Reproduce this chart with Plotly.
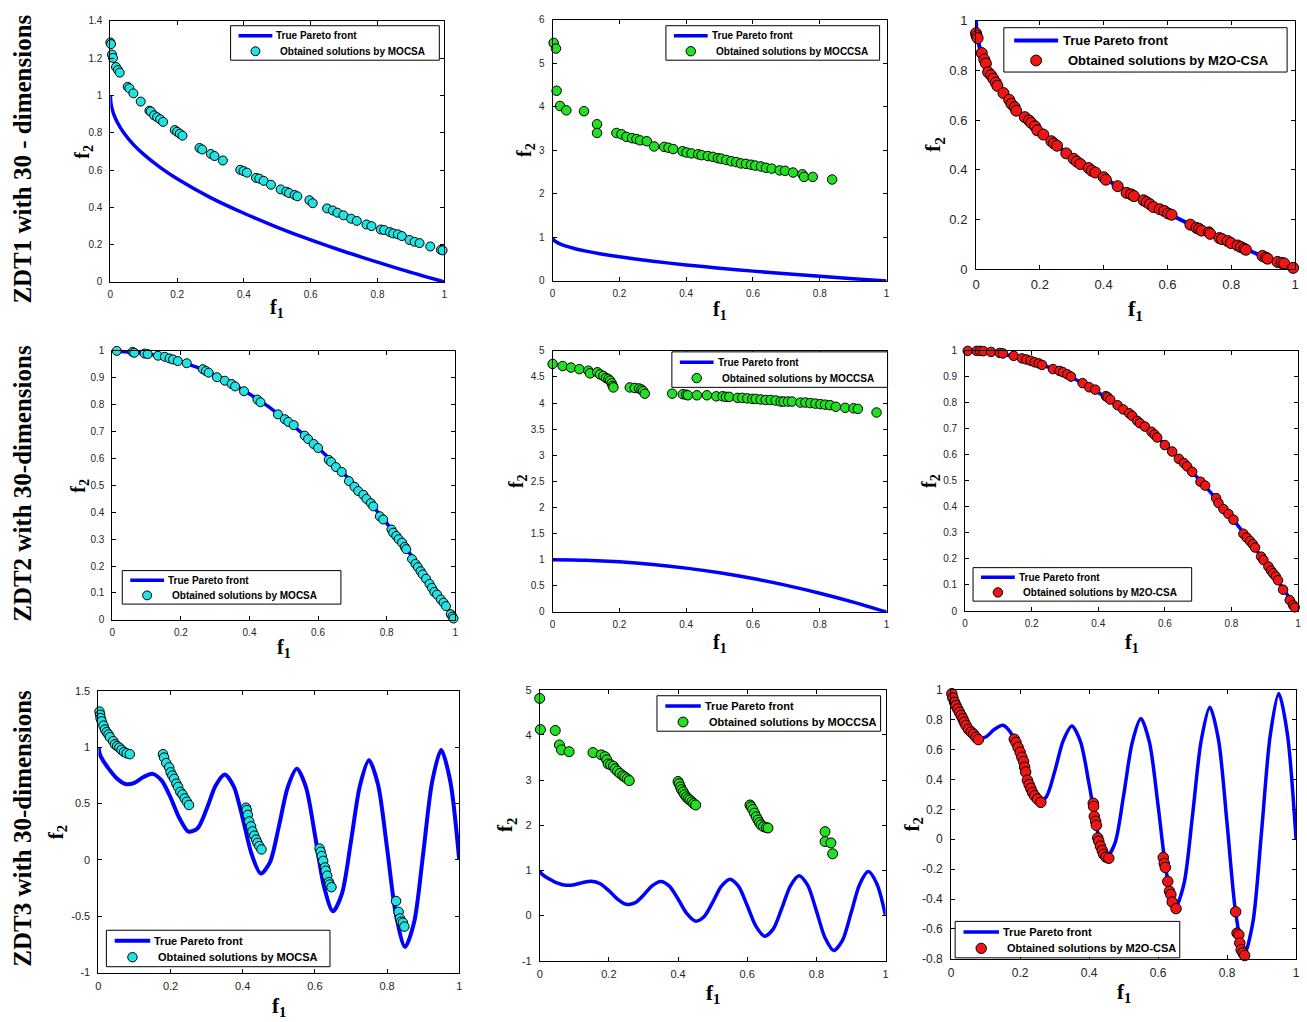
import plotly.graph_objects as go

# ---------------- data ----------------
# true Pareto fronts
zdt1_f1 = [0, 0.002, 0.005, 0.01, 0.02, 0.04, 0.07, 0.1, 0.15, 0.2, 0.3, 0.4, 0.5, 0.6, 0.7, 0.8, 0.9, 1.0]
zdt1_f2 = [1.0, 0.955, 0.929, 0.9, 0.859, 0.8, 0.735, 0.684, 0.613, 0.553, 0.452, 0.368, 0.293, 0.225, 0.163, 0.106, 0.051, 0.0]

zdt2_f1 = [0, 0.1, 0.2, 0.3, 0.4, 0.5, 0.6, 0.7, 0.8, 0.9, 1.0]
zdt2_f2 = [1.0, 0.99, 0.96, 0.91, 0.84, 0.75, 0.64, 0.51, 0.36, 0.19, 0.0]

zdt3_f1 = [0, 0.005, 0.0125, 0.025, 0.05, 0.075, 0.1, 0.125, 0.15, 0.175, 0.2, 0.225, 0.25, 0.275, 0.3,
           0.325, 0.35, 0.375, 0.4, 0.425, 0.45, 0.475, 0.5, 0.525, 0.55, 0.575, 0.6, 0.625, 0.65,
           0.675, 0.7, 0.725, 0.75, 0.775, 0.8, 0.825, 0.85, 0.875, 0.9, 0.925, 0.95, 0.975, 1.0]
zdt3_f2 = [1.0, 0.928, 0.883, 0.824, 0.726, 0.673, 0.684, 0.735, 0.763, 0.705, 0.553, 0.367, 0.25, 0.281, 0.452,
           0.66, 0.758, 0.653, 0.368, 0.048, -0.121, -0.025, 0.293, 0.647, 0.808, 0.648, 0.225, -0.233, -0.456,
           -0.299, 0.163, 0.661, 0.884, 0.668, 0.106, -0.492, -0.772, -0.554, 0.051, 0.692, 0.975, 0.702, 0.0]

# ZDT1 / MOCSA
zdt1_mocsa_f1 = [0.0, 0.002, 0.005, 0.008, 0.017, 0.023, 0.028, 0.052, 0.057, 0.069, 0.091, 0.117, 0.121, 0.131,
                 0.140, 0.149, 0.158, 0.193, 0.200, 0.208, 0.216, 0.267, 0.275, 0.301, 0.312, 0.337, 0.389, 0.399,
                 0.409, 0.436, 0.446, 0.459, 0.481, 0.510, 0.527, 0.535, 0.552, 0.560, 0.596, 0.606, 0.649, 0.666,
                 0.680, 0.698, 0.721, 0.738, 0.767, 0.782, 0.810, 0.820, 0.837, 0.847, 0.861, 0.873, 0.896, 0.911,
                 0.926, 0.958, 0.990, 0.995]
zdt1_mocsa_f2 = [1.284, 1.275, 1.219, 1.201, 1.152, 1.136, 1.122, 1.046, 1.038, 1.011, 0.967, 0.918, 0.914, 0.893,
                 0.883, 0.872, 0.858, 0.814, 0.805, 0.795, 0.784, 0.718, 0.710, 0.686, 0.675, 0.651, 0.601, 0.594,
                 0.586, 0.558, 0.554, 0.542, 0.521, 0.496, 0.484, 0.477, 0.466, 0.459, 0.438, 0.422, 0.394, 0.383,
                 0.371, 0.357, 0.339, 0.327, 0.308, 0.299, 0.281, 0.278, 0.267, 0.260, 0.255, 0.246, 0.225, 0.215,
                 0.208, 0.190, 0.172, 0.169]

# ZDT1 / MOCCSA
zdt1_moccsa_f1 = [0.003, 0.010, 0.012, 0.022, 0.041, 0.094, 0.133, 0.133, 0.191, 0.206, 0.221, 0.238, 0.251, 0.262,
                  0.282, 0.304, 0.334, 0.347, 0.361, 0.389, 0.401, 0.416, 0.436, 0.446, 0.465, 0.480, 0.495, 0.505,
                  0.520, 0.535, 0.550, 0.564, 0.579, 0.594, 0.607, 0.624, 0.639, 0.656, 0.680, 0.696, 0.720, 0.748,
                  0.753, 0.779, 0.837]
zdt1_moccsa_f2 = [5.47, 5.34, 4.37, 4.02, 3.92, 3.90, 3.60, 3.40, 3.40, 3.37, 3.31, 3.28, 3.26, 3.23,
                  3.21, 3.09, 3.08, 3.06, 3.03, 2.98, 2.95, 2.93, 2.91, 2.89, 2.87, 2.85, 2.82, 2.81,
                  2.78, 2.75, 2.73, 2.70, 2.69, 2.67, 2.65, 2.63, 2.60, 2.58, 2.54, 2.53, 2.49, 2.45,
                  2.39, 2.39, 2.33]

# ZDT1 / M2O-CSA
zdt1_m2o_f1 = [0.0, 0.002, 0.005, 0.018, 0.026, 0.031, 0.038, 0.047, 0.054, 0.062, 0.067, 0.086, 0.104, 0.111,
               0.121, 0.126, 0.153, 0.166, 0.173, 0.185, 0.192, 0.211, 0.236, 0.244, 0.254, 0.283, 0.306, 0.316,
               0.327, 0.353, 0.363, 0.374, 0.400, 0.407, 0.444, 0.472, 0.486, 0.495, 0.525, 0.535, 0.545, 0.556,
               0.576, 0.590, 0.602, 0.613, 0.672, 0.691, 0.699, 0.707, 0.730, 0.734, 0.763, 0.771, 0.789, 0.799,
               0.820, 0.830, 0.841, 0.846, 0.898, 0.909, 0.914, 0.945, 0.958, 0.966, 0.994]
zdt1_m2o_f2 = [0.950, 0.939, 0.930, 0.870, 0.844, 0.828, 0.793, 0.781, 0.767, 0.751, 0.738, 0.709, 0.682, 0.665,
               0.652, 0.638, 0.612, 0.599, 0.589, 0.575, 0.559, 0.542, 0.515, 0.506, 0.497, 0.466, 0.444, 0.433,
               0.423, 0.407, 0.396, 0.389, 0.370, 0.360, 0.334, 0.307, 0.301, 0.294, 0.277, 0.270, 0.261, 0.250,
               0.241, 0.234, 0.224, 0.219, 0.179, 0.166, 0.162, 0.155, 0.148, 0.142, 0.125, 0.121, 0.113, 0.105,
               0.095, 0.089, 0.082, 0.078, 0.053, 0.046, 0.042, 0.029, 0.025, 0.023, 0.005]

# ZDT2 / MOCSA
zdt2_mocsa_f1 = [0.013, 0.059, 0.064, 0.094, 0.103, 0.133, 0.153, 0.167, 0.177, 0.191, 0.217, 0.264, 0.273, 0.281,
                 0.305, 0.328, 0.348, 0.358, 0.384, 0.423, 0.432, 0.483, 0.503, 0.513, 0.529, 0.561, 0.571, 0.587,
                 0.600, 0.631, 0.638, 0.652, 0.669, 0.690, 0.706, 0.717, 0.732, 0.741, 0.754, 0.761, 0.780, 0.790,
                 0.814, 0.819, 0.828, 0.835, 0.845, 0.853, 0.857, 0.874, 0.884, 0.891, 0.899, 0.905, 0.915, 0.925,
                 0.932, 0.939, 0.947, 0.958, 0.966, 0.973, 0.987, 0.992, 0.995]
zdt2_mocsa_f2 = [1.000, 0.996, 0.993, 0.990, 0.988, 0.982, 0.978, 0.972, 0.968, 0.962, 0.954, 0.932, 0.925, 0.919,
                 0.902, 0.889, 0.877, 0.868, 0.850, 0.819, 0.809, 0.764, 0.746, 0.736, 0.724, 0.685, 0.672, 0.654,
                 0.639, 0.595, 0.587, 0.568, 0.550, 0.516, 0.495, 0.479, 0.465, 0.450, 0.434, 0.422, 0.385, 0.373,
                 0.336, 0.324, 0.312, 0.300, 0.287, 0.271, 0.263, 0.226, 0.208, 0.196, 0.181, 0.169, 0.153, 0.134,
                 0.119, 0.104, 0.094, 0.076, 0.064, 0.051, 0.021, 0.012, 0.005]

# ZDT2 / MOCCSA
zdt2_moccsa_f1 = [0.0, 0.030, 0.055, 0.080, 0.107, 0.112, 0.134, 0.142, 0.152, 0.160, 0.167, 0.172, 0.177, 0.180,
                  0.182, 0.231, 0.246, 0.259, 0.266, 0.271, 0.276, 0.358, 0.390, 0.400, 0.405, 0.432, 0.462, 0.490,
                  0.509, 0.519, 0.529, 0.554, 0.568, 0.583, 0.598, 0.608, 0.623, 0.638, 0.653, 0.668, 0.683, 0.692,
                  0.705, 0.717, 0.742, 0.757, 0.772, 0.787, 0.802, 0.816, 0.831, 0.848, 0.876, 0.901, 0.914, 0.970]
zdt2_moccsa_f2 = [4.75, 4.71, 4.68, 4.65, 4.62, 4.57, 4.59, 4.55, 4.52, 4.48, 4.46, 4.43, 4.38, 4.33,
                  4.30, 4.30, 4.29, 4.28, 4.26, 4.23, 4.18, 4.18, 4.17, 4.16, 4.15, 4.15, 4.15, 4.13,
                  4.13, 4.12, 4.12, 4.10, 4.10, 4.09, 4.08, 4.08, 4.07, 4.06, 4.06, 4.05, 4.03, 4.03,
                  4.03, 4.03, 4.01, 4.01, 4.00, 3.99, 3.98, 3.97, 3.96, 3.93, 3.91, 3.90, 3.89, 3.82]

# ZDT2 / M2O-CSA
zdt2_m2o_f1 = [0.008, 0.035, 0.045, 0.055, 0.078, 0.104, 0.114, 0.146, 0.171, 0.184, 0.197, 0.209, 0.221, 0.231,
               0.264, 0.284, 0.294, 0.307, 0.318, 0.353, 0.373, 0.391, 0.423, 0.428, 0.436, 0.458, 0.475, 0.493,
               0.502, 0.517, 0.525, 0.540, 0.560, 0.569, 0.577, 0.600, 0.622, 0.642, 0.657, 0.667, 0.682, 0.707,
               0.721, 0.754, 0.761, 0.776, 0.791, 0.806, 0.836, 0.846, 0.856, 0.864, 0.871, 0.889, 0.896, 0.911,
               0.919, 0.925, 0.933, 0.940, 0.955, 0.975, 0.985, 0.990]
zdt2_m2o_f2 = [1.000, 1.000, 1.000, 0.999, 0.996, 0.992, 0.990, 0.981, 0.971, 0.967, 0.962, 0.956, 0.952, 0.946,
               0.930, 0.923, 0.918, 0.910, 0.901, 0.876, 0.860, 0.851, 0.826, 0.822, 0.813, 0.791, 0.775, 0.760,
               0.750, 0.731, 0.722, 0.709, 0.689, 0.678, 0.667, 0.638, 0.613, 0.585, 0.569, 0.556, 0.535, 0.497,
               0.482, 0.434, 0.415, 0.392, 0.373, 0.351, 0.297, 0.282, 0.269, 0.257, 0.244, 0.209, 0.196, 0.171,
               0.155, 0.145, 0.133, 0.118, 0.082, 0.042, 0.023, 0.014]

# ZDT3 / MOCSA
zdt3_mocsa_f1 = [0.003, 0.005, 0.006, 0.009, 0.014, 0.018, 0.023, 0.028, 0.032, 0.041, 0.046, 0.052, 0.058, 0.064,
                 0.071, 0.078, 0.087,
                 0.179, 0.182, 0.188, 0.196, 0.200, 0.205, 0.210, 0.216, 0.221, 0.227, 0.233, 0.239, 0.245, 0.251,
                 0.409, 0.411, 0.414, 0.418, 0.423, 0.427, 0.432, 0.437, 0.441, 0.446, 0.452,
                 0.613, 0.616, 0.619, 0.623, 0.628, 0.630, 0.634, 0.639, 0.641, 0.646,
                 0.825, 0.832, 0.836, 0.839, 0.844, 0.848]
zdt3_mocsa_f2 = [1.316, 1.287, 1.258, 1.229, 1.191, 1.156, 1.133, 1.112, 1.089, 1.054, 1.025, 1.010, 0.996, 0.976,
                 0.958, 0.946, 0.938,
                 0.938, 0.908, 0.859, 0.821, 0.777, 0.748, 0.719, 0.676, 0.647, 0.603, 0.580, 0.545, 0.516, 0.487,
                 0.463, 0.442, 0.399, 0.341, 0.297, 0.253, 0.215, 0.180, 0.151, 0.122, 0.093,
                 0.101, 0.072, 0.034, -0.009, -0.067, -0.096, -0.140, -0.198, -0.219, -0.242,
                 -0.365, -0.461, -0.519, -0.548, -0.557, -0.592]

# ZDT3 / MOCCSA
zdt3_moccsa_f1 = [0.0, 0.002, 0.045, 0.057, 0.063, 0.085, 0.154, 0.178, 0.189, 0.194, 0.198, 0.205, 0.213, 0.218,
                  0.225, 0.232, 0.240, 0.246, 0.253, 0.259,
                  0.400, 0.403, 0.407, 0.410, 0.415, 0.419, 0.424, 0.429, 0.434, 0.440, 0.445, 0.451,
                  0.608, 0.611, 0.616, 0.621, 0.626, 0.631, 0.635, 0.640, 0.647, 0.655, 0.660,
                  0.825, 0.825, 0.842, 0.847]
zdt3_moccsa_f2 = [4.81, 4.12, 4.10, 3.78, 3.67, 3.63, 3.61, 3.56, 3.52, 3.45, 3.36, 3.34, 3.31, 3.25,
                  3.20, 3.15, 3.10, 3.07, 3.03, 2.99,
                  2.97, 2.92, 2.85, 2.79, 2.74, 2.68, 2.63, 2.59, 2.56, 2.52, 2.48, 2.45,
                  2.45, 2.41, 2.35, 2.27, 2.19, 2.12, 2.06, 2.01, 1.97, 1.95, 1.94,
                  1.86, 1.64, 1.61, 1.37]

# ZDT3 / M2O-CSA
zdt3_m2o_f1 = [0.002, 0.005, 0.010, 0.014, 0.019, 0.024, 0.029, 0.034, 0.038, 0.043, 0.050, 0.058, 0.065, 0.072, 0.079,
               0.183, 0.188, 0.194, 0.200, 0.205, 0.210, 0.213, 0.216, 0.221, 0.226, 0.231, 0.236, 0.242, 0.250, 0.260,
               0.412, 0.413, 0.415, 0.419, 0.421, 0.425, 0.428, 0.433, 0.438, 0.442, 0.449, 0.457,
               0.615, 0.618, 0.621, 0.628, 0.633, 0.637, 0.641, 0.652,
               0.825, 0.829, 0.834, 0.837, 0.841, 0.846, 0.851]
zdt3_m2o_f2 = [0.974, 0.945, 0.916, 0.894, 0.872, 0.850, 0.828, 0.806, 0.784, 0.762, 0.736, 0.718, 0.703, 0.683, 0.667,
               0.670, 0.648, 0.615, 0.582, 0.549, 0.520, 0.483, 0.450, 0.395, 0.366, 0.340, 0.313, 0.291, 0.269, 0.247,
               0.241, 0.219, 0.153, 0.120, 0.093, 0.009, -0.013, -0.046, -0.075, -0.101, -0.119, -0.127,
               -0.122, -0.162, -0.189, -0.282, -0.348, -0.370, -0.420, -0.464,
               -0.485, -0.628, -0.639, -0.694, -0.739, -0.761, -0.778]

# tick labels
ticks_f1 = [0, 0.2, 0.4, 0.6, 0.8, 1]
ticks_f1_text = ['0', '0.2', '0.4', '0.6', '0.8', '1']
ticks_y1 = [0, 0.2, 0.4, 0.6, 0.8, 1, 1.2, 1.4]
ticks_y1_text = ['0', '0.2', '0.4', '0.6', '0.8', '1', '1.2', '1.4']
ticks_y2 = [0, 1, 2, 3, 4, 5, 6]
ticks_y2_text = ['0', '1', '2', '3', '4', '5', '6']
ticks_y3 = [0, 0.2, 0.4, 0.6, 0.8, 1]
ticks_y3_text = ['0', '0.2', '0.4', '0.6', '0.8', '1']
ticks_y4 = [0, 0.1, 0.2, 0.3, 0.4, 0.5, 0.6, 0.7, 0.8, 0.9, 1]
ticks_y4_text = ['0', '0.1', '0.2', '0.3', '0.4', '0.5', '0.6', '0.7', '0.8', '0.9', '1']
ticks_y5 = [0, 0.5, 1, 1.5, 2, 2.5, 3, 3.5, 4, 4.5, 5]
ticks_y5_text = ['0', '0.5', '1', '1.5', '2', '2.5', '3', '3.5', '4', '4.5', '5']
ticks_y7 = [-1, -0.5, 0, 0.5, 1, 1.5]
ticks_y7_text = ['-1', '-0.5', '0', '0.5', '1', '1.5']
ticks_y8 = [-1, 0, 1, 2, 3, 4, 5]
ticks_y8_text = ['-1', '0', '1', '2', '3', '4', '5']
ticks_y9 = [-0.8, -0.6, -0.4, -0.2, 0, 0.2, 0.4, 0.6, 0.8, 1]
ticks_y9_text = ['-0.8', '-0.6', '-0.4', '-0.2', '0', '0.2', '0.4', '0.6', '0.8', '1']

row_labels = ['ZDT1 with 30 - dimensions', 'ZDT2 with 30-dimensions', 'ZDT3 with 30-dimensions']
algo_names = ['MOCSA', 'MOCCSA', 'M2O-CSA']
front_name = 'True Pareto front'
sol_prefix = 'Obtained solutions by '

# ---------------- layout / styling ----------------
W, H = 1307, 1022
CYAN, GREEN, RED, BLUE = '#22e3e3', '#22e022', '#f01414', '#0000ff'

panels = [
    # plot box in px (left, right, top, bottom); legend box in px (x0, y0, x1, y1)
    dict(box=(107, 443, 14, 279), front=(zdt1_f1, zdt1_f2), sol=(zdt1_mocsa_f1, zdt1_mocsa_f2), algo=0, color=CYAN,
         yr=[0, 1.4], yt=(ticks_y1, ticks_y1_text), tf=10, ms=9, lw=3.5, leg=(228, 19, 438, 54), lf=10, ls=1.0,
         f1off=12, f2off=27, af=20),
    dict(box=(552, 888, 13, 278), front=(zdt1_f1, zdt1_f2), sol=(zdt1_moccsa_f1, zdt1_moccsa_f2), algo=1, color=GREEN,
         yr=[0, 6], yt=(ticks_y2, ticks_y2_text), tf=10, ms=9.5, lw=3.5, leg=(666, 19, 881, 54), lf=10, ls=1.0,
         f1off=15, f2off=27, af=20),
    dict(box=(978, 1299, 14, 266), front=(zdt1_f1, zdt1_f2), sol=(zdt1_m2o_f1, zdt1_m2o_f2), algo=2, color=RED,
         yr=[0, 1], yt=(ticks_y3, ticks_y3_text), tf=13, ms=11, lw=4, leg=(1006, 21, 1291, 66), lf=13, ls=1.3,
         f1off=25, f2off=42, af=22),
    dict(box=(109, 454, 349, 622), front=(zdt2_f1, zdt2_f2), sol=(zdt2_mocsa_f1, zdt2_mocsa_f2), algo=0, color=CYAN,
         yr=[0, 1], yt=(ticks_y4, ticks_y4_text), tf=10, ms=9, lw=3.5, leg=(119, 572, 339, 606), lf=10, ls=1.0,
         f1off=14, f2off=33, af=20),
    dict(box=(552, 888, 349, 614), front=(zdt2_f1, zdt2_f2), sol=(zdt2_moccsa_f1, zdt2_moccsa_f2), algo=1, color=GREEN,
         yr=[0, 5], yt=(ticks_y5, ticks_y5_text), tf=10, ms=9.5, lw=3.5, leg=(672, 350, 889, 386), lf=10, ls=1.0,
         f1off=17, f2off=35, af=20),
    dict(box=(967, 1302, 349, 613), front=(zdt2_f1, zdt2_f2), sol=(zdt2_m2o_f1, zdt2_m2o_f2), algo=2, color=RED,
         yr=[0, 1], yt=(ticks_y4, ticks_y4_text), tf=10, ms=9.5, lw=3.5, leg=(975, 569, 1195, 603), lf=10, ls=1.0,
         f1off=18, f2off=34, af=20),
    dict(box=(95, 458, 694, 980), front=(zdt3_f1, zdt3_f2), sol=(zdt3_mocsa_f1, zdt3_mocsa_f2), algo=0, color=CYAN,
         yr=[-1, 1.5], yt=(ticks_y7, ticks_y7_text), tf=11, ms=9.5, lw=4, leg=(103, 937, 328, 974), lf=11, ls=1.05,
         f1off=19, f2off=42, af=21),
    dict(box=(539, 887, 693, 968), front=(zdt3_f1, zdt3_f2), sol=(zdt3_moccsa_f1, zdt3_moccsa_f2), algo=1, color=GREEN,
         yr=[-1, 5], yt=(ticks_y8, ticks_y8_text), tf=11, ms=10, lw=3.5, leg=(657, 699, 882, 735), lf=11, ls=1.05,
         f1off=18, f2off=33, af=21),
    dict(box=(953, 1300, 693, 966), front=(zdt3_f1, zdt3_f2), sol=(zdt3_m2o_f1, zdt3_m2o_f2), algo=2, color=RED,
         yr=[-0.8, 1], yt=(ticks_y9, ticks_y9_text), tf=12, ms=10.5, lw=3.5, leg=(957, 928, 1183, 965), lf=11, ls=1.05,
         f1off=19, f2off=38, af=21),
]

TICK_FONT = 'Arial, Liberation Sans, sans-serif'
SERIF = 'Times New Roman, Liberation Serif, serif'


def px(x):
    return x / W


def py(y):
    return 1 - y / H


fig = go.Figure()
layout = dict(width=W, height=H, margin=dict(l=0, r=0, t=0, b=0), paper_bgcolor='white',
              plot_bgcolor='white', showlegend=False)
annotations = []
shapes = []

for i, p in enumerate(panels):
    k = i + 1
    sfx = '' if k == 1 else str(k)
    xa, ya = 'x' + sfx, 'y' + sfx
    l, r, t, b = p['box']
    sol_name = sol_prefix + algo_names[p['algo']]

    fig.add_trace(go.Scatter(x=p['front'][0], y=p['front'][1], mode='lines',
                             line=dict(color=BLUE, width=p['lw'], shape='spline', smoothing=0.8),
                             name=front_name, xaxis=xa, yaxis=ya, cliponaxis=False))
    fig.add_trace(go.Scatter(x=p['sol'][0], y=p['sol'][1], mode='markers',
                             marker=dict(symbol='circle', size=p['ms'], color=p['color'],
                                         line=dict(color='black', width=1)),
                             name=sol_name, xaxis=xa, yaxis=ya, cliponaxis=False))

    axis_common = dict(showline=True, linecolor='black', linewidth=1, mirror='ticks', ticks='inside',
                       ticklen=4, tickcolor='black', showgrid=False, zeroline=False,
                       tickfont=dict(family=TICK_FONT, size=p['tf'], color='#262626'), fixedrange=True)
    layout['xaxis' + sfx] = dict(domain=[px(l), px(r)], anchor=ya, range=[0, 1],
                                 tickvals=ticks_f1, ticktext=ticks_f1_text, ticklabelstandoff=3, **axis_common)
    layout['yaxis' + sfx] = dict(domain=[py(b), py(t)], anchor=xa, range=p['yr'],
                                 tickvals=p['yt'][0], ticktext=p['yt'][1], ticklabelstandoff=5, **axis_common)

    # legend box drawn by hand (MATLAB style)
    x0, y0, x1, y1 = p['leg']
    s = p['ls']
    hgt = y1 - y0
    r1 = y0 + 0.29 * hgt
    r2 = y0 + 0.74 * hgt
    shapes.append(dict(type='rect', xref='paper', yref='paper', x0=px(x0), x1=px(x1), y0=py(y1), y1=py(y0),
                       line=dict(color='black', width=1), fillcolor='white', layer='above'))
    shapes.append(dict(type='line', xref='paper', yref='paper', x0=px(x0 + 8 * s), x1=px(x0 + 42 * s),
                       y0=py(r1), y1=py(r1), line=dict(color=BLUE, width=p['lw']), layer='above'))
    rad = p['ms'] / 2
    mx = x0 + 25 * s
    shapes.append(dict(type='circle', xref='paper', yref='paper', x0=px(mx - rad), x1=px(mx + rad),
                       y0=py(r2 + rad), y1=py(r2 - rad), line=dict(color='black', width=1),
                       fillcolor=p['color'], layer='above'))
    lfont = dict(family=TICK_FONT, size=p['lf'], color='black', weight='bold')
    annotations.append(dict(text=front_name, xref='paper', yref='paper', x=px(x0 + 44 * s), y=py(r1),
                            xanchor='left', yanchor='middle', showarrow=False, font=lfont))
    annotations.append(dict(text=sol_name, xref='paper', yref='paper', x=px(x0 + 48 * s), y=py(r2),
                            xanchor='left', yanchor='middle', showarrow=False, font=lfont))

    annotations.append(dict(text='f<sub>1</sub>', xref=xa + ' domain', yref=ya + ' domain', x=0.5, y=0,
                            xanchor='center', yanchor='top', yshift=-p['f1off'], showarrow=False,
                            font=dict(family=SERIF, size=p['af'], color='black', weight='bold')))
    annotations.append(dict(text='f<sub>2</sub>', xref=xa + ' domain', yref=ya + ' domain', x=0, y=0.5,
                            xanchor='center', yanchor='middle', xshift=-p['f2off'], textangle=-90,
                            showarrow=False,
                            font=dict(family=SERIF, size=p['af'], color='black', weight='bold')))

row_centers = [154, 483, 833]
for txt, cy in zip(row_labels, row_centers):
    annotations.append(dict(text=txt, xref='paper', yref='paper', x=px(19), y=py(cy),
                            xanchor='center', yanchor='middle', textangle=-90, showarrow=False,
                            font=dict(family=SERIF, size=25, color='black', weight='bold')))

layout['annotations'] = annotations
layout['shapes'] = shapes
fig.update_layout(**layout)
fig.write_html('out.html')
